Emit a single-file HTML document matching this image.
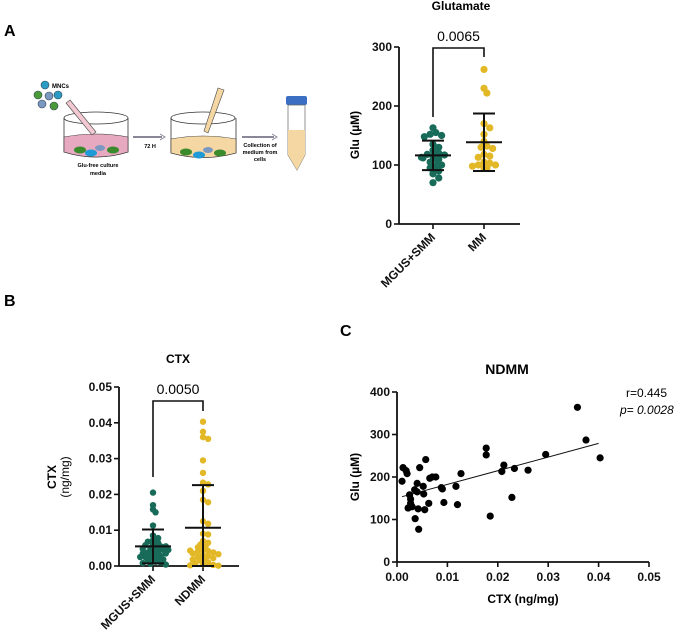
<!DOCTYPE html>
<html><head><meta charset="utf-8"><style>
body{margin:0;background:#fff}
svg{display:block;font-family:"Liberation Sans",sans-serif}
.t{font-weight:bold;font-size:12px;fill:#111}
.lbl{font-weight:bold;font-size:16px}
</style></head><body>
<svg id="fig" width="685" height="642" viewBox="0 0 685 642">
<text class="lbl" x="4" y="36">A</text>
<text class="lbl" x="4" y="306">B</text>
<text class="lbl" x="340" y="336">C</text>
<g id="illus">
 <circle cx="45" cy="85" r="4" fill="#2a9bc4" stroke="#345" stroke-width=".6"/>
 <text x="52" y="88" font-size="6" font-weight="bold">MNCs</text>
 <circle cx="38" cy="95" r="4" fill="#4a9a3a" stroke="#345" stroke-width=".6"/>
 <circle cx="49" cy="96" r="4" fill="#7a98c0" stroke="#345" stroke-width=".6"/>
 <circle cx="58" cy="95" r="4" fill="#2a9bc4" stroke="#345" stroke-width=".6"/>
 <circle cx="42" cy="104" r="4" fill="#7a98c0" stroke="#345" stroke-width=".6"/>
 <circle cx="54" cy="106" r="4" fill="#4a9a3a" stroke="#345" stroke-width=".6"/>
 <path d="M64 118 L64 152 Q96 162 128 152 L128 118" fill="#fff" stroke="#333" stroke-width=".8"/>
 <path d="M64 137 L64 152 Q96 162 128 152 L128 137 Q96 131 64 137Z" fill="#e6a9c0" stroke="#333" stroke-width=".6"/>
 <ellipse cx="96" cy="118" rx="32" ry="6" fill="none" stroke="#333" stroke-width=".8"/>
 <ellipse cx="80" cy="150" rx="6" ry="3.5" fill="#3b8a2c"/><ellipse cx="91" cy="153" rx="6" ry="3.5" fill="#1e9ad6"/><ellipse cx="100" cy="148" rx="5" ry="3" fill="#7a98c0"/><ellipse cx="113" cy="150" rx="6" ry="3.5" fill="#3b8a2c"/>
 <path d="M70 100 L96 132 L92 135 L66 103Z" fill="#f2c9d2" stroke="#444" stroke-width=".6"/>
 <text x="98" y="167" font-size="5.5" font-weight="bold" text-anchor="middle">Glu-free culture</text>
 <text x="98" y="175" font-size="5.5" font-weight="bold" text-anchor="middle">media</text>
 <path d="M133 137 L162 137" stroke="#889" stroke-width="2"/><path d="M160 134 L165 137 L160 140" fill="none" stroke="#889" stroke-width="1"/>
 <text x="150" y="148" font-size="5.5" font-weight="bold" text-anchor="middle">72 H</text>
 <path d="M171 118 L171 153 Q203 162 236 153 L236 118" fill="#fff" stroke="#333" stroke-width=".8"/>
 <path d="M171 139 L171 153 Q203 162 236 153 L236 139 Q203 133 171 139Z" fill="#f5d7a3" stroke="#333" stroke-width=".6"/>
 <ellipse cx="203" cy="118" rx="32" ry="6" fill="none" stroke="#333" stroke-width=".8"/>
 <ellipse cx="186" cy="152" rx="6" ry="3.5" fill="#3b8a2c"/><ellipse cx="199" cy="155" rx="6" ry="3.5" fill="#1e9ad6"/><ellipse cx="208" cy="150" rx="5" ry="3" fill="#7a98c0"/><ellipse cx="220" cy="153" rx="6" ry="3.5" fill="#3b8a2c"/>
 <path d="M224 90 L208 133 L204 131 L218 88Z" fill="#f5d7a3" stroke="#444" stroke-width=".6"/>
 <path d="M242 137 L274 137" stroke="#889" stroke-width="2"/><path d="M272 134 L277 137 L272 140" fill="none" stroke="#889" stroke-width="1"/>
 <text x="260" y="147" font-size="5.5" font-weight="bold" text-anchor="middle">Collection of</text>
 <text x="260" y="154" font-size="5.5" font-weight="bold" text-anchor="middle">medium from</text>
 <text x="260" y="161" font-size="5.5" font-weight="bold" text-anchor="middle">cells</text>
 <rect x="286" y="96" width="21" height="9" rx="2" fill="#3a6fc4"/>
 <path d="M288 105 L288 155 L297 170 L305 155 L305 105Z" fill="#fff" stroke="#666" stroke-width=".7"/>
 <path d="M288 130 L288 155 L297 170 L305 155 L305 130Z" fill="#f5d7a3"/>
</g>
<g id="gA"></g>
<g id="gB"></g>
<g id="gC"></g>
</svg>
<script>
const NS="http://www.w3.org/2000/svg";
const gluCategories=["MGUS+SMM","MM"];
const gluMgus=[163,155,152,150,148,135,130,125,120,118,117,115,113,112,110,108,105,100,98,95,90,85,78,70];
const gluMm=[262,230,222,170,163,152,140,132,130,128,118,115,113,105,103,100,100,98,95,95];
const gluTicks=[0,100,200,300];
const ctxCategories=["MGUS+SMM","NDMM"];
const ctxMgus=[0.0205,0.017,0.0158,0.015,0.0113,0.0085,0.0078,0.0072,0.0068,0.0065,0.006,0.0058,0.0055,0.0052,0.005,0.0048,0.0045,0.0042,0.004,0.0038,0.0035,0.0032,0.003,0.0028,0.0025,0.0022,0.002,0.0018,0.0015,0.0012,0.001,0.0008,0.0006,0.0004,0.0045,0.0055,0.0035,0.0025];
const ctxNdmm=[0.0403,0.0375,0.036,0.0355,0.0295,0.026,0.0233,0.0228,0.021,0.0185,0.0178,0.0125,0.0118,0.009,0.0088,0.007,0.0065,0.006,0.0055,0.0052,0.0045,0.0042,0.004,0.0038,0.0035,0.003,0.0028,0.0025,0.0022,0.002,0.0018,0.0015,0.001,0.0008,0.0005,0.0003,0.0002,0.0001,0.0043,0.0033];
const ctxTicks=[0,0.01,0.02,0.03,0.04,0.05];
const scX=[0.0012,0.001,0.0018,0.002,0.0025,0.0027,0.0027,0.0022,0.003,0.0035,0.0036,0.004,0.004,0.0042,0.0043,0.0045,0.0052,0.0053,0.0055,0.0057,0.0063,0.0065,0.007,0.0077,0.0088,0.009,0.0093,0.0117,0.012,0.0127,0.0177,0.0177,0.0185,0.0208,0.0212,0.0228,0.0233,0.026,0.0295,0.0358,0.0375,0.0403];
const scY=[222,190,215,208,158,148,138,127,130,170,102,185,165,125,77,222,178,160,123,241,138,197,200,200,175,172,140,178,135,208,268,252,108,213,228,152,220,216,253,364,287,245];
const scXTicks=[0,0.01,0.02,0.03,0.04,0.05];
const scYTicks=[0,100,200,300,400];
const regLine=[0.001,0.040];

function el(p,t,a,txt){const e=document.createElementNS(NS,t);for(const k in a)e.setAttribute(k,a[k]);if(txt!=null)e.textContent=txt;p.appendChild(e);return e;}
function mean(a){return a.reduce((s,v)=>s+v,0)/a.length}
function sd(a){const m=mean(a);return Math.sqrt(a.reduce((s,v)=>s+(v-m)*(v-m),0)/(a.length-1))}
function swarm(ys,r,f,maxw){const placed=[];const out=[];ys.forEach(y=>{let best=0;for(let k=0;k<60;k++){const cand=(k%2?1:-1)*Math.ceil(k/2)*r*0.8;if(Math.abs(cand)>maxw){best=((placed.length*7)%(2*maxw+1))-maxw;break;}if(placed.every(p=>Math.hypot(p[0]-cand,p[1]-y)>=r*f)){best=cand;break;}}placed.push([best,y]);out.push(best);});return out;}

function strip(g,o){
 const y=v=>o.y0-(v-o.min)/(o.max-o.min)*(o.y0-o.y1);
 const x=i=>o.cx[i];
 el(g,"text",{x:o.tx,y:o.ty,"text-anchor":"middle","font-size":"12","font-weight":"bold"},o.title);
 el(g,"line",{x1:o.ax,y1:o.y1,x2:o.ax,y2:o.y0,stroke:"#111","stroke-width":"1.8"});
 el(g,"line",{x1:o.ax,y1:o.y0,x2:o.xend,y2:o.y0,stroke:"#111","stroke-width":"1.8"});
 o.ticks.forEach(t=>{el(g,"line",{x1:o.ax-5,x2:o.ax,y1:y(t),y2:y(t),stroke:"#111","stroke-width":"1.6"});
  const tl=el(g,"text",{class:"t",x:o.ax-7,y:y(t)+4,"text-anchor":"end"},o.fmt(t));});
 o.cats.forEach((c,i)=>{el(g,"line",{x1:x(i),x2:x(i),y1:o.y0,y2:o.y0+5,stroke:"#111","stroke-width":"1.6"});
  const cl=el(g,"text",{class:"t",x:x(i)+3,y:o.y0+14,"text-anchor":"end",transform:`rotate(-45 ${x(i)+3} ${o.y0+14})`},c);});
 o.series.forEach((s,i)=>{const ys=s.map(y);const off=swarm(ys,o.r,o.f,o.maxw);
  s.forEach((v,j)=>{const d=el(g,"circle",{cx:x(i)+off[j],cy:ys[j],r:o.r,fill:o.colors[i]});});
  const m=mean(s),d=sd(s);const lo=Math.max(o.min,m-d);
  el(g,"line",{x1:x(i),x2:x(i),y1:y(m+d),y2:y(lo),stroke:"#111","stroke-width":"2"});
  [[m,18],[m+d,11],[lo,11]].forEach(([v,w])=>el(g,"line",{x1:x(i)-w,x2:x(i)+w,y1:y(v),y2:y(v),stroke:"#111","stroke-width":"2"}));
 });
 el(g,"path",{d:`M${x(0)} ${o.bl} L${x(0)} ${o.bt} L${x(1)} ${o.bt} L${x(1)} ${o.br}`,fill:"none",stroke:"#111","stroke-width":"1.6"});
 const pv=el(g,"text",{x:(x(0)+x(1))/2,y:o.bt-7,"text-anchor":"middle","font-size":"14"},o.p);
 o.ylab.forEach((l,k)=>{const yl=el(g,"text",{x:0,y:0,"text-anchor":"middle","font-size":"12","font-weight":k==0?"bold":"normal",transform:`translate(${o.ylx+k*13} ${o.yly}) rotate(-90)`},l);});
}
strip(document.getElementById("gA"),{min:0,max:300,y0:224,y1:47,ax:399,xend:520,cx:[433,484],cats:gluCategories,series:[gluMgus,gluMm],ticks:gluTicks,fmt:t=>String(t),colors:["#176b58","#e3b826"],r:3.6,f:1.5,maxw:14,title:"Glutamate",tx:461,ty:10,bt:48,bl:117,br:57,p:"0.0065",ylab:["Glu (µM)"],ylx:359,yly:135});
strip(document.getElementById("gB"),{min:0,max:0.05,y0:566,y1:387,ax:119,xend:239,cx:[153,203],cats:ctxCategories,series:[ctxMgus,ctxNdmm],ticks:ctxTicks,fmt:t=>t.toFixed(2),colors:["#176b58","#e3b826"],r:3.2,f:1.2,maxw:16,title:"CTX",tx:178,ty:363,bt:401,bl:477,br:411,p:"0.0050",ylab:["CTX","(ng/mg)"],ylx:56,yly:477});

(function(){
 const g=document.getElementById("gC");
 const x0=397,x1=649,y0=562,y1=392;
 const X=v=>x0+v/0.05*(x1-x0), Y=v=>y0-v/400*(y0-y1);
 el(g,"text",{x:507,y:374,"text-anchor":"middle","font-size":"14","font-weight":"bold"},"NDMM");
 el(g,"line",{x1:x0,y1:y1,x2:x0,y2:y0,stroke:"#111","stroke-width":"1.8"});
 el(g,"line",{x1:x0,y1:y0,x2:x1,y2:y0,stroke:"#111","stroke-width":"1.8"});
 scYTicks.forEach(t=>{el(g,"line",{x1:x0-5,x2:x0,y1:Y(t),y2:Y(t),stroke:"#111","stroke-width":"1.6"});
  el(g,"text",{class:"t",x:x0-7,y:Y(t)+4,"text-anchor":"end"},String(t));});
 scXTicks.forEach(t=>{el(g,"line",{x1:X(t),x2:X(t),y1:y0,y2:y0+5,stroke:"#111","stroke-width":"1.6"});
  el(g,"text",{class:"t",x:X(t),y:y0+19,"text-anchor":"middle"},t.toFixed(2));});
 const n=scX.length,mx=mean(scX),my=mean(scY);let sxy=0,sxx=0;for(let i=0;i<n;i++){sxy+=(scX[i]-mx)*(scY[i]-my);sxx+=(scX[i]-mx)**2;}
 const b=sxy/sxx,a=my-b*mx;
 el(g,"line",{x1:X(regLine[0]),y1:Y(a+b*regLine[0]),x2:X(regLine[1]),y2:Y(a+b*regLine[1]),stroke:"#111","stroke-width":"1"});
 scX.forEach((v,i)=>{const c=el(g,"circle",{cx:X(v),cy:Y(scY[i]),r:3.6,fill:"#000"});});
 el(g,"text",{x:626,y:397,"font-size":"12"},"r=0.445");
 el(g,"text",{x:620,y:414,"font-size":"12","font-style":"italic"},"p= 0.0028");
 el(g,"text",{x:523,y:603,"text-anchor":"middle","font-size":"12","font-weight":"bold"},"CTX (ng/mg)");
 el(g,"text",{x:0,y:0,"text-anchor":"middle","font-size":"12","font-weight":"bold",transform:"translate(359 477) rotate(-90)"},"Glu (µM)");
})();
</script>
</body></html>
